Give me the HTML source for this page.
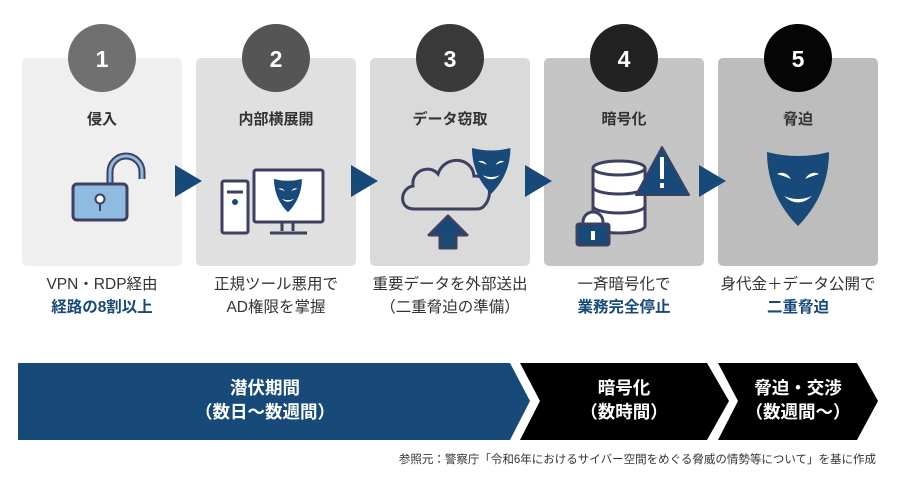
<!DOCTYPE html>
<html><head><meta charset="utf-8"><style>
html,body{margin:0;padding:0;background:#fff;}
svg{display:block;}
text{font-family:"Liberation Sans","Noto Sans CJK JP",sans-serif;}
</style></head><body>
<svg width="900" height="479" viewBox="0 0 900 479" xmlns="http://www.w3.org/2000/svg">
<defs>
<g id="mask">
<path d="M0,0 Q31,8 62,0 C62,30 50,55 31,74 C12,55 0,30 0,0 Z" fill="#174a78"/>
<path d="M10,22 Q18,18 24,27 Q17,24 10,22 Z" fill="#fff"/>
<path d="M52,22 Q44,18 38,27 Q45,24 52,22 Z" fill="#fff"/>
<path d="M17,44 Q31,50 45,44 Q31,57 17,44 Z" fill="#fff"/>
</g>
</defs>
<rect x="22" y="58" width="160" height="208" rx="5" fill="#efefef"/>
<rect x="196" y="58" width="160" height="208" rx="5" fill="#e0e0e0"/>
<rect x="370" y="58" width="160" height="208" rx="5" fill="#dadada"/>
<rect x="544" y="58" width="160" height="208" rx="5" fill="#c5c5c5"/>
<rect x="718" y="58" width="160" height="208" rx="5" fill="#bdbdbd"/>
<circle cx="102" cy="58" r="34" fill="#707070"/>
<circle cx="276" cy="58" r="34" fill="#555"/>
<circle cx="450" cy="58" r="34" fill="#3a3a3a"/>
<circle cx="624" cy="58" r="34" fill="#222"/>
<circle cx="798" cy="58" r="34" fill="#050505"/>
<g font-size="23" font-weight="bold" fill="#fff" text-anchor="middle">
<text x="102" y="67">1</text><text x="276" y="67">2</text><text x="450" y="67">3</text><text x="624" y="67">4</text><text x="798" y="67">5</text>
</g>
<g font-size="15" font-weight="bold" fill="#333" text-anchor="middle">
<text x="102" y="124">侵入</text><text x="276" y="124">内部横展開</text><text x="450" y="124">データ窃取</text><text x="624" y="124">暗号化</text><text x="798" y="124">脅迫</text>
</g>
<g fill="#174a78">
<path d="M175,165 L202,181 L175,197 Z"/>
<path d="M351,165 L378,181 L351,197 Z"/>
<path d="M525,165 L552,181 L525,197 Z"/>
<path d="M699,165 L726,181 L699,197 Z"/>
</g>
<path d="M110,184 L110,172 A16,16 0 0 1 142,172 L142,179" fill="none" stroke="#3d4060" stroke-width="7"/>
<path d="M110,184 L110,172 A16,16 0 0 1 142,172 L142,179" fill="none" stroke="#8fbbe0" stroke-width="3"/>
<rect x="73" y="184" width="54" height="36" rx="4" fill="#8fbbe0" stroke="#3d4060" stroke-width="3"/>
<circle cx="100" cy="199" r="4.5" fill="#fff" stroke="#3d4060" stroke-width="2"/>
<line x1="100" y1="203" x2="100" y2="211" stroke="#3d4060" stroke-width="2"/>
<rect x="222" y="181" width="26" height="52" rx="2" fill="#fff" stroke="#3d4060" stroke-width="3"/>
<line x1="227" y1="192" x2="243" y2="192" stroke="#3d4060" stroke-width="3"/>
<circle cx="235" cy="202" r="3" fill="#174a78"/>
<rect x="254" y="170" width="69" height="52" rx="2" fill="#fff" stroke="#3d4060" stroke-width="3"/>
<path d="M282,222 L282,231 M293,222 L293,231" stroke="#3d4060" stroke-width="3"/>
<line x1="270" y1="233" x2="307" y2="233" stroke="#3d4060" stroke-width="3"/>
<g transform="translate(274,179) scale(0.45)"><use href="#mask"/></g>
<path d="M414,209 C398,209 400,188 413,186 C411,170 430,164 438,174 C444,155 472,156 474,176 C490,175 494,196 484,206 Q482,209 476,209 Z" fill="none" stroke="#3d4060" stroke-width="3"/>
<g transform="translate(472,148) scale(0.62)"><use href="#mask"/></g>
<path d="M448,216 L467,235 L456,235 L456,248 L440,248 L440,235 L429,235 Z" fill="#174a78" stroke="#3d4060" stroke-width="3" stroke-linejoin="round"/>
<g fill="#fff" stroke="#3d4060" stroke-width="3">
<path d="M593,168 L593,226 A26,7 0 0 0 645,226 L645,168"/>
<ellipse cx="619" cy="168" rx="26" ry="7"/>
<path d="M593,187 A26,7 0 0 0 645,187" fill="none"/>
<path d="M593,206 A26,7 0 0 0 645,206" fill="none"/>
</g>
<path d="M662,147 L689,195 L636,195 Z" fill="#174a78" stroke="#3d4060" stroke-width="2" stroke-linejoin="round"/>
<rect x="660" y="157" width="4" height="22" fill="#fff"/><rect x="660" y="183" width="4" height="5" fill="#fff"/>
<circle cx="593" cy="222" r="10" fill="#fff" stroke="#3d4060" stroke-width="3"/>
<rect x="577" y="224" width="32" height="21" rx="2" fill="#174a78" stroke="#3d4060" stroke-width="3"/>
<rect x="591" y="231" width="4" height="9" fill="#fff"/>
<g transform="translate(767,152)"><use href="#mask"/></g>
<g font-size="15.5" fill="#333" text-anchor="middle">
<text x="102" y="289">VPN・RDP経由</text>
<text x="102" y="312" fill="#174a78" font-weight="bold">経路の8割以上</text>
<text x="276" y="289">正規ツール悪用で</text>
<text x="276" y="312">AD権限を掌握</text>
<text x="450" y="289">重要データを外部送出</text>
<text x="450" y="312">（二重脅迫の準備）</text>
<text x="624" y="289">一斉暗号化で</text>
<text x="624" y="312" fill="#174a78" font-weight="bold">業務完全停止</text>
<text x="798" y="289">身代金＋データ公開で</text>
<text x="798" y="312" fill="#174a78" font-weight="bold">二重脅迫</text>
</g>
<path d="M18,363 L510,363 L530,401 L510,440 L18,440 Z" fill="#174a78"/>
<path d="M520,363 L707,363 L729,401 L707,440 L520,440 L540,401 Z" fill="#000"/>
<path d="M718,363 L857,363 L878,401 L857,440 L718,440 L738,401 Z" fill="#000"/>
<g font-size="17.5" font-weight="bold" fill="#fff" text-anchor="middle">
<text x="265" y="394">潜伏期間</text>
<text x="265" y="418">（数日〜数週間）</text>
<text x="624" y="394">暗号化</text>
<text x="624" y="418">（数時間）</text>
<text x="798" y="394">脅迫・交渉</text>
<text x="798" y="418">（数週間〜）</text>
</g>
<text x="876" y="463" font-size="11.5" fill="#333" text-anchor="end">参照元：警察庁「令和6年におけるサイバー空間をめぐる脅威の情勢等について」を基に作成</text>
</svg>
</body></html>
